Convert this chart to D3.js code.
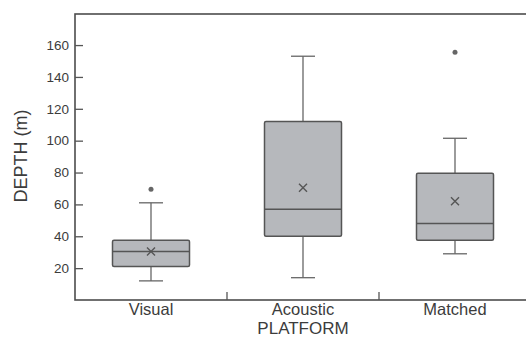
<!DOCTYPE html>
<meta charset="utf-8">
<title>Depth by platform</title>
<script src="https://d3js.org/d3.v7.min.js"></script>
<style>
	body { margin: 0; background: #fff; }
	text { font-family: "Liberation Sans", Arial, sans-serif; fill: #3c3c3c; }
</style>
<div id="chart"></div>
<script>

var platforms = ["Visual", "Acoustic", "Matched"];
var whiskerLow = [12, 14, 29];
var q1 = [21, 40, 37.5];
var median = [30.5, 57, 48];
var q3 = [37.5, 112, 79.5];
var whiskerHigh = [61, 153, 101.5];
var mean = [30.5, 70.5, 62];
var outliers = [[69.5], [], [155.5]];
var yTicks = [20, 40, 60, 80, 100, 120, 140, 160];

var width = 526, height = 337;
var margin = {top: 14, right: -5, bottom: 37, left: 75};

var svg = d3.select("#chart").append("svg")
	.attr("width", width)
	.attr("height", height);

var x = d3.scaleBand()
	.domain(platforms)
	.range([margin.left, width - margin.right]);

var y = d3.scaleLinear()
	.domain([0, 179.5])
	.range([height - margin.bottom, margin.top]);

var data = platforms.map(function(p, i) {
	return {name: p, lo: whiskerLow[i], q1: q1[i], med: median[i], q3: q3[i],
		hi: whiskerHigh[i], mean: mean[i], out: outliers[i]};
});

// frame
svg.append("rect")
	.attr("x", margin.left)
	.attr("y", margin.top)
	.attr("width", width - margin.right - margin.left)
	.attr("height", height - margin.bottom - margin.top)
	.attr("fill", "none")
	.attr("stroke", "#4d4d4d")
	.attr("stroke-width", 1.6);

// y axis, ticks pointing inward
var yAxis = svg.append("g")
	.attr("transform", "translate(" + margin.left + ",0)")
	.call(d3.axisRight(y).tickValues(yTicks).tickSize(8));
yAxis.select(".domain").remove();
yAxis.selectAll("line").attr("stroke", "#555").attr("stroke-width", 1.3);
yAxis.selectAll("text")
	.attr("text-anchor", "end")
	.attr("x", -6)
	.style("font-size", "13.5px")
	.style("fill", "#3c3c3c");

// x ticks between categories, pointing up
svg.append("g").selectAll("line")
	.data(platforms.slice(1))
	.enter().append("line")
	.attr("x1", function(d) { return x(d); })
	.attr("x2", function(d) { return x(d); })
	.attr("y1", y(0))
	.attr("y2", y(0) - 8)
	.attr("stroke", "#555")
	.attr("stroke-width", 1.3);

svg.append("g").selectAll("text")
	.data(platforms)
	.enter().append("text")
	.attr("x", function(d) { return x(d) + x.bandwidth() / 2; })
	.attr("y", 315)
	.attr("text-anchor", "middle")
	.style("font-size", "16.5px")
	.text(function(d) { return d; });

svg.append("text")
	.attr("x", x("Acoustic") + x.bandwidth() / 2)
	.attr("y", 334)
	.attr("text-anchor", "middle")
	.style("font-size", "17px")
	.text("PLATFORM");

svg.append("text")
	.attr("transform", "translate(27,156) rotate(-90)")
	.attr("text-anchor", "middle")
	.style("font-size", "18px")
	.text("DEPTH (m)");

// boxes
var boxW = 77, capW = 24;
var g = svg.append("g").selectAll("g")
	.data(data)
	.enter().append("g")
	.attr("transform", function(d) { return "translate(" + (x(d.name) + x.bandwidth() / 2) + ",0)"; });

g.append("line")
	.attr("y1", function(d) { return y(d.lo); })
	.attr("y2", function(d) { return y(d.hi); })
	.attr("stroke", "#666").attr("stroke-width", 1.3);

g.selectAll(".cap")
	.data(function(d) { return [d.lo, d.hi]; })
	.enter().append("line")
	.attr("class", "cap")
	.attr("x1", -capW / 2).attr("x2", capW / 2)
	.attr("y1", function(v) { return y(v); })
	.attr("y2", function(v) { return y(v); })
	.attr("stroke", "#666").attr("stroke-width", 1.3);

g.append("rect")
	.attr("x", -boxW / 2)
	.attr("width", boxW)
	.attr("y", function(d) { return y(d.q3); })
	.attr("height", function(d) { return y(d.q1) - y(d.q3); })
	.attr("rx", 1.5)
	.attr("fill", "#b6b8bc")
	.attr("stroke", "#555")
	.attr("stroke-width", 1.5);

g.append("line")
	.attr("x1", -boxW / 2).attr("x2", boxW / 2)
	.attr("y1", function(d) { return y(d.med); })
	.attr("y2", function(d) { return y(d.med); })
	.attr("stroke", "#555").attr("stroke-width", 1.5);

var m = 4;
g.append("path")
	.attr("d", function(d) {
		var cy = y(d.mean);
		return "M" + (-m) + "," + (cy - m) + "L" + m + "," + (cy + m) +
			"M" + m + "," + (cy - m) + "L" + (-m) + "," + (cy + m);
	})
	.attr("stroke", "#555").attr("stroke-width", 1.4);

g.selectAll(".out")
	.data(function(d) { return d.out; })
	.enter().append("circle")
	.attr("class", "out")
	.attr("cy", function(v) { return y(v); })
	.attr("r", 2.5)
	.attr("fill", "#666");

</script>
